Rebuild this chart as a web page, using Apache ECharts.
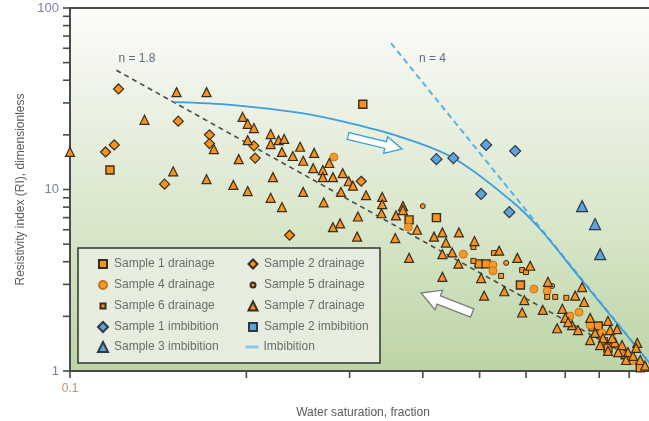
<!DOCTYPE html>
<html>
<head>
<meta charset="utf-8">
<script src="https://cdn.jsdelivr.net/npm/echarts@6/dist/echarts.min.js"></script>
<style>
html,body{margin:0;padding:0;background:#ffffff;}
#chart{width:649px;height:421px;}
</style>
</head>
<body>
<div id="chart"></div>
<script>
// ---- Measured points: [water saturation (fraction), resistivity index] ----
const sample1Drainage = [[0.117,12.8],[0.316,29.5],[0.379,6.8],[0.422,7.0],[0.499,3.89],[0.513,3.89],[0.587,2.98],[0.781,1.75],[0.797,1.77],[0.886,1.23],[0.940,1.04],[0.828,1.34]];
const sample2Drainage = [[0.121,35.8],[0.119,17.6],[0.115,16.1],[0.153,23.8],[0.145,10.7],[0.173,20.0],[0.173,17.9],[0.206,17.4],[0.207,14.9],[0.237,5.6],[0.314,11.1]];
const sample4Drainage = [[0.282,15.1],[0.378,6.2],[0.469,4.4],[0.527,3.84],[0.527,3.56],[0.619,2.83],[0.652,2.76],[0.739,2.11],[0.713,2.01],[0.809,1.62],[0.868,1.305],[0.910,1.14],[0.772,1.79]];
const sample5Drainage = [[0.400,8.1],[0.555,3.94],[0.665,2.94],[0.842,1.39]];
const sample6Drainage = [[0.488,4.82],[0.529,4.47],[0.488,4.04],[0.591,3.60],[0.600,3.51],[0.544,3.34],[0.652,2.56],[0.673,2.56],[0.703,2.53],[0.819,1.48],[0.903,1.19]];
const sample7Drainage = [
  [0.100,16.1],[0.134,24.2],[0.152,34.4],[0.171,34.4],[0.150,12.6],[0.171,11.4],[0.176,16.7],[0.190,10.6],
  [0.194,14.7],[0.197,25.1],[0.201,23.0],[0.206,21.8],[0.201,18.7],[0.201,9.8],[0.220,20.2],[0.220,17.8],
  [0.220,9.0],[0.227,18.7],[0.232,19.0],[0.230,16.1],[0.230,8.0],[0.222,11.7],[0.240,15.3],[0.247,17.2],
  [0.250,14.4],[0.250,9.7],[0.260,13.1],[0.261,15.9],[0.270,12.8],[0.270,11.7],[0.277,14.0],[0.281,11.7],
  [0.292,12.3],[0.299,11.1],[0.304,10.5],[0.290,9.7],[0.271,8.5],[0.320,9.3],[0.341,9.1],[0.341,8.3],
  [0.340,7.4],[0.370,8.1],[0.370,7.7],[0.360,7.2],[0.310,7.1],[0.289,6.5],[0.281,6.2],[0.309,5.5],
  [0.359,5.4],[0.391,6.0],[0.379,4.2],[0.432,3.3],[0.461,5.8],[0.490,5.2],[0.432,5.8],[0.418,5.5],
  [0.438,5.1],[0.449,4.5],[0.432,4.4],[0.460,3.9],[0.540,4.6],[0.580,4.2],[0.610,3.8],[0.503,3.25],
  [0.509,2.6],[0.551,2.75],[0.596,2.46],[0.654,3.1],[0.748,2.9],[0.728,2.6],[0.754,2.4],[0.591,2.1],
  [0.641,2.17],[0.678,1.72],[0.692,2.2],[0.828,1.89],[0.858,1.70],[0.828,1.29],[0.929,1.43],[0.700,1.96],
  [0.719,1.79],[0.772,1.96],[0.787,1.62],[0.812,1.52],[0.835,1.68],[0.851,1.44],[0.875,1.39],[0.896,1.27],
  [0.914,1.21],[0.940,1.15],[0.958,1.07],[0.889,1.15],[0.862,1.27],[0.803,1.39],[0.772,1.48],[0.736,1.68],
  [0.708,1.86],[0.842,1.52],[0.925,1.34]
];
const sample1Imbibition = [[0.422,14.7],[0.451,14.9],[0.513,17.6],[0.575,16.3],[0.503,9.45],[0.562,7.5]];
const sample2Imbibition = [];
const sample3Imbibition = [[0.748,8.1],[0.787,6.45],[0.803,4.4]];

// Imbibition trend and Archie reference lines (n = 1.8, n = 4)
const imbibitionCurve = [[0.151,30.3],[0.190,29.2],[0.247,26.4],[0.300,23.2],[0.366,19.5],[0.451,14.9],[0.564,8.75],[0.634,6.06],[0.742,3.25],[1.0,1.0]];
const archieN18 = [[0.12,45.4],[1.0,1.0]];
const archieN4 = [[0.353,64.0],[1.0,1.0]];

// Axis ticks
const xTickValues = [0.1,0.2,0.3,0.4,0.5,0.6,0.7,0.8,0.9];
const yTickValues = [1,2,3,4,5,6,7,8,9,10,20,30,40,50,60,70,80,90,100];

// Annotations (data coordinates)
const lineLabels = [
  {text:'n = 1.8', at:[0.121, 52.4]},
  {text:'n = 4', at:[0.394, 52.4]}
];
const drainageArrow = {tail:[0.4856, 2.087], tip:[0.3973, 2.689]};
const imbibitionArrow = {tail:[0.2982, 19.71], tip:[0.3688, 16.72]};

const FONT = '"Liberation Sans Narrow", "Arial Narrow", "Liberation Sans", sans-serif';
const ORANGE = '#f7941d';
const DARK = '#3a2b1f';
const BLUE = '#5ea3d9';
const BLUE_EDGE = '#2c3a48';

const chart = echarts.init(document.getElementById('chart'), null, {renderer:'canvas'});

function scatter(name, data, symbol, size, color, border, borderWidth) {
  return {
    name, type:'scatter', data, symbol, symbolSize:size, clip:false, z:5,
    itemStyle:{color, borderColor:border, borderWidth, opacity:1},
    emphasis:{disabled:true}
  };
}

const seriesList = [
  {name:'n18', type:'line', data:archieN18, symbol:'none', z:3, silent:true,
   lineStyle:{color:'#4a4a4a', width:1.6, type:[5,4]}},
  {name:'n4', type:'line', data:archieN4, symbol:'none', z:3, silent:true,
   lineStyle:{color:'#5cb0e8', width:2, type:[6,4]}},
  {name:'Imbibition', type:'line', data:imbibitionCurve, symbol:'none', showSymbol:false, smooth:0.35, z:4, silent:true,
   lineStyle:{color:'#3a9ee0', width:1.8}},
  scatter('Sample 1 drainage', sample1Drainage, 'rect', 8, ORANGE, DARK, 1.4),
  scatter('Sample 2 drainage', sample2Drainage, 'diamond', 10, ORANGE, DARK, 1.2),
  scatter('Sample 4 drainage', sample4Drainage, 'circle', 8, '#f59a2a', '#c4731a', 1),
  scatter('Sample 5 drainage', sample5Drainage, 'circle', 5, ORANGE, DARK, 1),
  scatter('Sample 6 drainage', sample6Drainage, 'rect', 5, ORANGE, DARK, 1),
  scatter('Sample 7 drainage', sample7Drainage, 'triangle', 9, ORANGE, DARK, 1.2),
  scatter('Sample 1 imbibition', sample1Imbibition, 'diamond', 11, BLUE, BLUE_EDGE, 1.2),
  scatter('Sample 2 imbibition', sample2Imbibition, 'rect', 8, BLUE, BLUE_EDGE, 1.2),
  scatter('Sample 3 imbibition', sample3Imbibition, 'triangle', 11, BLUE, BLUE_EDGE, 1.2),
  {type:'custom', silent:true, clip:false, z:6, data:xTickValues.map(v => [v, 1]),
   renderItem(params, api) {
     const p = api.coord([api.value(0), 1]);
     return {type:'line', shape:{x1:p[0], y1:p[1], x2:p[0], y2:p[1] + 7}, style:{stroke:'#4a4a4a', lineWidth:1.6}};
   }},
  {type:'custom', silent:true, clip:false, z:6, data:yTickValues.map(v => [0.1, v]),
   renderItem(params, api) {
     const p = api.coord([0.1, api.value(1)]);
     return {type:'line', shape:{x1:p[0] - 7, y1:p[1], x2:p[0], y2:p[1]}, style:{stroke:'#4a4a4a', lineWidth:1.6}};
   }}
];

// Legend layout: two columns, five rows
const legendEntries = [
  {name:'Sample 1 drainage', col:0, row:0, size:8},
  {name:'Sample 4 drainage', col:0, row:1, size:8},
  {name:'Sample 6 drainage', col:0, row:2, size:5},
  {name:'Sample 1 imbibition', col:0, row:3, size:10},
  {name:'Sample 3 imbibition', col:0, row:4, size:10},
  {name:'Sample 2 drainage', col:1, row:0, size:9},
  {name:'Sample 5 drainage', col:1, row:1, size:5},
  {name:'Sample 7 drainage', col:1, row:2, size:9},
  {name:'Sample 2 imbibition', col:1, row:3, size:8},
  {name:'Imbibition', col:1, row:4, size:13, line:true}
];
const colIconX = [102, 252];
const rowY = [265, 286, 307, 328, 348];

const legends = legendEntries.map(e => {
  const w = e.size, h = e.line ? 3 : e.size;
  const item = e.line
    ? {name:e.name, icon:'rect', itemStyle:{color:'#8fc5ea', borderWidth:0}}
    : {name:e.name};
  return {
    data:[item], selectedMode:false, padding:0, z:30,
    left: colIconX[e.col] - w / 2,
    top: rowY[e.row] - 7,
    itemWidth:w, itemHeight:h, itemGap:0,
    textStyle:{fontFamily:FONT, fontSize:12, color:'#6c6c6c', padding:[0,0,0,e.line ? 0 : (11 - w / 2 - 5)]}
  };
});

chart.setOption({
  animation:false,
  backgroundColor:'#ffffff',
  grid:{
    left:70, top:8, width:586, height:363, show:true,
    outerBoundsMode:'none', containLabel:false,
    borderColor:'#4a4a4a', borderWidth:2,
    backgroundColor:{type:'linear', x:0, y:0, x2:0, y2:1, colorStops:[
      {offset:0, color:'#fdfdfb'},
      {offset:0.25, color:'#edf2e6'},
      {offset:0.6, color:'#d8e6ca'},
      {offset:1, color:'#bcd4a5'}
    ]}
  },
  legend:legends,
  xAxis:{
    type:'log', logBase:10, min:0.1, max:1,
    name:'Water saturation, fraction', nameLocation:'middle', nameGap:36,
    nameTextStyle:{fontFamily:FONT, fontSize:12, color:'#5a5a5a'},
    axisLine:{show:true, lineStyle:{color:'#4a4a4a', width:2}},
    axisTick:{show:false},
    splitLine:{show:false},
    axisLabel:{fontFamily:FONT, fontSize:12, color:'#b89474', margin:12}
  },
  yAxis:{
    type:'log', logBase:10, min:1, max:100,
    name:'Resistivity index (RI), dimensionless', nameLocation:'middle', nameGap:43,
    nameRotate:90,
    nameTextStyle:{fontFamily:FONT, fontSize:12, color:'#5a5a5a'},
    axisLine:{show:true, lineStyle:{color:'#4a4a4a', width:2}},
    axisTick:{show:false},
    splitLine:{show:false},
    axisLabel:{fontFamily:FONT, fontSize:13, color:'#7d80ad', margin:11}
  },
  series:seriesList
});

// Legend frame, line labels and direction arrows
function blockArrow(tail, tip, shaftW, headW, headL) {
  const dx = tip[0] - tail[0], dy = tip[1] - tail[1];
  const len = Math.hypot(dx, dy);
  const ux = dx / len, uy = dy / len, nx = -uy, ny = ux;
  const bx = tip[0] - ux * headL, by = tip[1] - uy * headL;
  return [
    [tail[0] + nx * shaftW / 2, tail[1] + ny * shaftW / 2],
    [bx + nx * shaftW / 2, by + ny * shaftW / 2],
    [bx + nx * headW / 2, by + ny * headW / 2],
    [tip[0], tip[1]],
    [bx - nx * headW / 2, by - ny * headW / 2],
    [bx - nx * shaftW / 2, by - ny * shaftW / 2],
    [tail[0] - nx * shaftW / 2, tail[1] - ny * shaftW / 2]
  ];
}
const px = p => chart.convertToPixel({gridIndex:0}, p);

const graphics = [
  {type:'rect', z:20, shape:{x:78, y:248, width:302, height:115},
   style:{fill:'#e6eddf', stroke:'#333333', lineWidth:1.5}}
];
lineLabels.forEach(l => {
  const p = px(l.at);
  graphics.push({type:'text', z:8, x:p[0], y:p[1],
    style:{text:l.text, fill:'#66697f', font:'12px ' + FONT, verticalAlign:'middle'}});
});
graphics.push({type:'polygon', z:8,
  shape:{points:blockArrow(px(imbibitionArrow.tail), px(imbibitionArrow.tip), 7, 17, 17)},
  style:{fill:'#ffffff', stroke:'#3d9edf', lineWidth:1.3}});
graphics.push({type:'polygon', z:8,
  shape:{points:blockArrow(px(drainageArrow.tail), px(drainageArrow.tip), 9, 21, 19)},
  style:{fill:'#ffffff', stroke:'#7a7a7a', lineWidth:1.3}});

chart.setOption({graphic:graphics});
</script>
</body>
</html>
